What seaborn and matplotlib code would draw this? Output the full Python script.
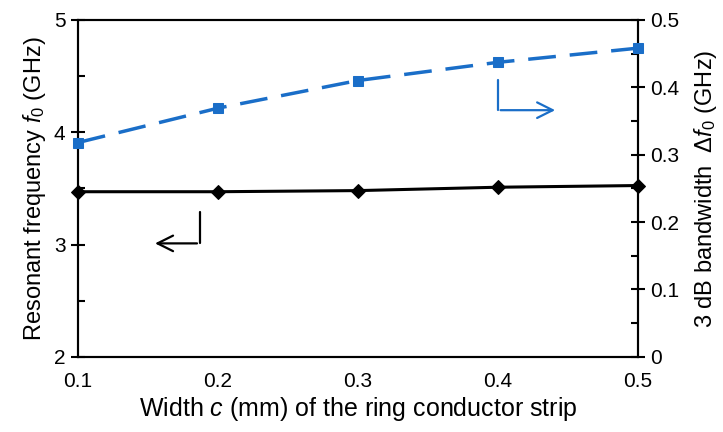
import matplotlib
matplotlib.use("Agg")
import matplotlib.pyplot as plt
import seaborn as sns
import pandas as pd
from matplotlib.ticker import MultipleLocator

sns.set_style("white", {"text.color": "black", "axes.labelcolor": "black",
                        "xtick.color": "black", "ytick.color": "black"})
plt.rcParams["font.family"] = ["Liberation Sans", "DejaVu Sans"]
plt.rcParams["mathtext.fontset"] = "custom"
plt.rcParams["mathtext.rm"] = "Liberation Sans"
plt.rcParams["mathtext.it"] = "Liberation Sans:italic"

# data
width_c = [0.1, 0.2, 0.3, 0.4, 0.5]
res_freq = [3.47, 3.47, 3.48, 3.51, 3.525]
bandwidth = [0.318, 0.369, 0.41, 0.437, 0.458]

blue = "#1a6ec8"
df = pd.DataFrame({"c": width_c, "f0": res_freq, "bw": bandwidth})

fig = plt.figure(figsize=(7.23, 4.32), dpi=100)
ax = fig.add_axes([0.108, 0.174, 0.774, 0.78])
ax2 = ax.twinx()

sns.lineplot(data=df, x="c", y="f0", ax=ax, color="black", marker="D", markersize=7,
             markeredgecolor="black", linewidth=2.2, clip_on=False, zorder=5)
sns.lineplot(data=df, x="c", y="bw", ax=ax2, color=blue, marker="s", markersize=7,
             markeredgecolor=blue, linewidth=2.5, clip_on=False, zorder=5,
             dashes=False)
ax2.lines[0].set_dashes([8, 4])

ax.set_xlim(0.1, 0.5)
ax.set_ylim(2, 5)
ax2.set_ylim(0, 0.5)
ax.set_xticks(width_c)
ax.set_xticklabels(["0.1", "0.2", "0.3", "0.4", "0.5"])
ax.set_yticks([2, 3, 4, 5])
ax.yaxis.set_minor_locator(MultipleLocator(0.5))
ax2.set_yticks([0, 0.1, 0.2, 0.3, 0.4, 0.5])
ax2.set_yticklabels(["0", "0.1", "0.2", "0.3", "0.4", "0.5"])
ax2.yaxis.set_minor_locator(MultipleLocator(0.05))

for a in (ax, ax2):
    for s in a.spines.values():
        s.set_color("black")
        s.set_linewidth(1.5)

ax.tick_params(axis="x", which="major", direction="out", length=6, width=1.5,
               labelsize=15, pad=5, colors="black")
ax.tick_params(axis="y", which="major", direction="inout", length=10, width=1.5,
               labelsize=15, pad=4, left=True, colors="black")
ax.tick_params(axis="y", which="minor", direction="in", length=5, width=1.5, left=True)
ax2.tick_params(axis="y", which="major", direction="inout", length=10, width=1.5,
                labelsize=15, pad=4, right=True, colors="black")
ax2.tick_params(axis="y", which="minor", direction="in", length=5, width=1.5, right=True)

ax.set_xlabel("Width $c$ (mm) of the ring conductor strip", fontsize=18, labelpad=3,
              color="black")
ax.set_ylabel("Resonant frequency $f_0$ (GHz)", fontsize=17, labelpad=4, color="black")
ax2.set_ylabel("3 dB bandwidth  Δ$f_0$ (GHz)", fontsize=17, labelpad=9, color="black")

# direction arrows
ax.annotate("", xy=(0.153, 3.01), xytext=(0.187, 3.01),
            arrowprops=dict(arrowstyle="->", color="black", lw=1.6, mutation_scale=28))
ax.plot([0.187, 0.187], [3.29, 3.01], color="black", lw=1.6)
ax2.annotate("", xy=(0.443, 0.366), xytext=(0.4, 0.366),
             arrowprops=dict(arrowstyle="->", color=blue, lw=1.6, mutation_scale=28))
ax2.plot([0.4, 0.4], [0.411, 0.366], color=blue, lw=1.6)

ax.grid(False)
ax2.grid(False)
if ax.get_legend():
    ax.get_legend().remove()

fig.savefig("out.png", dpi=100)
